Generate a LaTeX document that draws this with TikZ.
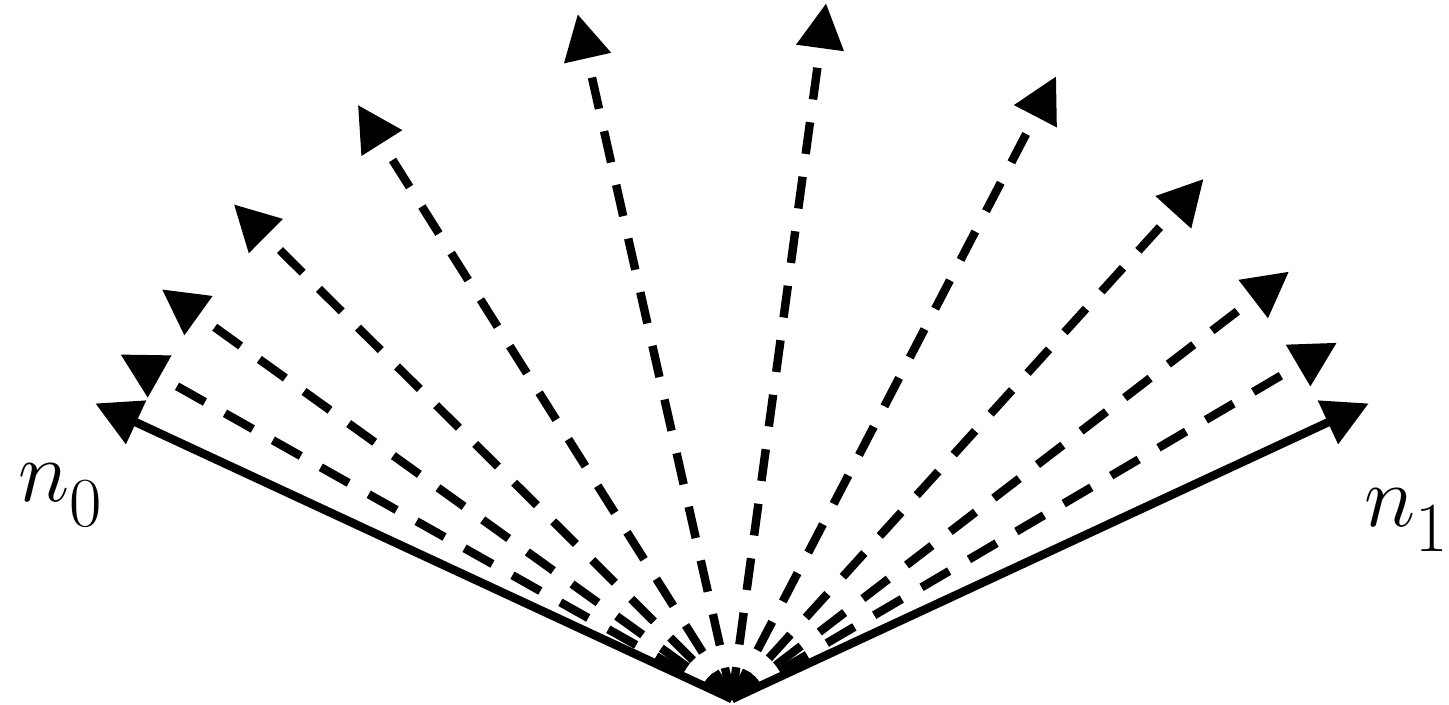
\documentclass[tikz,border=0pt]{standalone}
\usetikzlibrary{arrows.meta}
\tikzset{
  solidvec/.style={
    black,
    line width=2.4pt,
    -{Triangle[length=4.5mm,width=4.6mm]}
  },
  dashvec/.style={
    solidvec,
    dash pattern=on 3.2mm off 2.3mm
  },
  veclabel/.style={
    inner sep=0pt,
    anchor=base west,
    font=\fontsize{27}{30}\selectfont
  }
}
\newcommand{\vecidx}[1]{\raisebox{-7pt}{\fontsize{20}{22}\selectfont #1}}

\begin{document}
\begin{tikzpicture}[x=1cm,y=1cm]
    \useasboundingbox (0,0) rectangle (14.49,7.05);

    % パラメータ
    \def\len{7.02}
    \coordinate (O) at (7.32,0.06);

    % 破線の矢印
    \foreach \a [count=\i] in {30.5,37.5,47.8,62.5,82.3,102.7,122.2,135.2,144.3,150.6} {
        \path (O) ++(\a:\len) coordinate (d\i);
        \draw[dashvec] (O) -- (d\i);
    }

    % 実線の矢印 n_0, n_1
    \path (O) ++(155.1:\len) coordinate (t0);
    \path (O) ++(24.9:\len) coordinate (t1);
    \draw[solidvec] (O) -- (t0);
    \draw[solidvec] (O) -- (t1);

    % ラベル
    \node[veclabel] (n0) at (0.18,2.03) {$n$\vecidx{0}};
    \node[veclabel] (n1) at (13.64,1.78) {$n$\vecidx{1}};

\end{tikzpicture}
\end{document}
